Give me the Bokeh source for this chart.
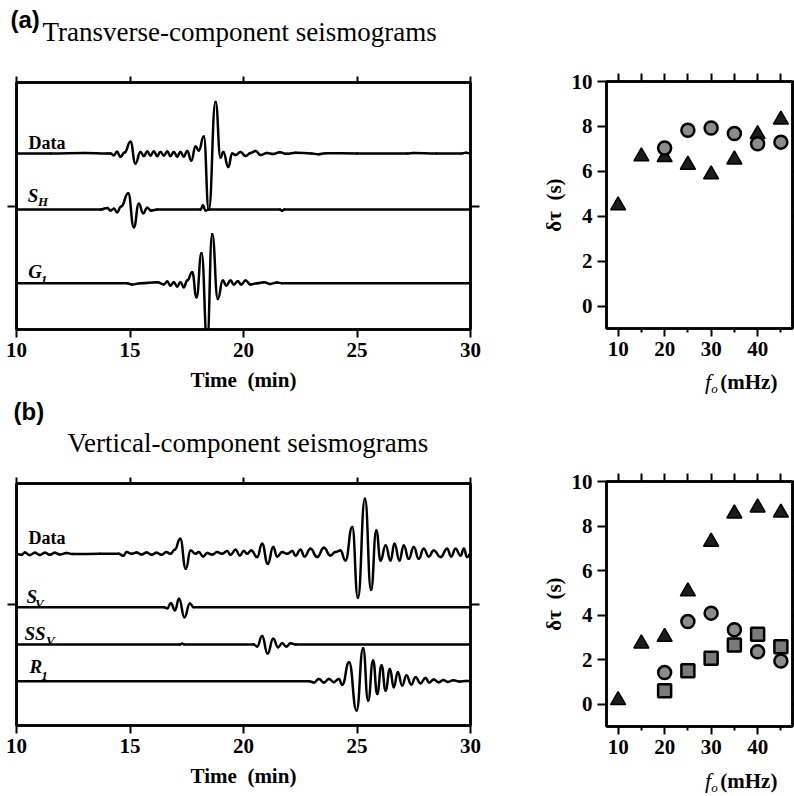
from bokeh.plotting import figure
from bokeh.models import Label, LinearAxis, FixedTicker
from bokeh.layouts import column, row
from bokeh.core.properties import value
from bokeh.embed import file_html
from bokeh.resources import INLINE

SERIF = "Liberation Serif"
SANS = "Liberation Sans"

# ---------------- data: seismogram traces (time in min, amplitude in arbitrary units) ----------------
t_data_T = [10.0, 11.5, 13.0, 14.0, 14.14, 14.29, 14.43, 14.58, 14.76, 15.02, 15.24, 15.46, 15.61, 15.76,
            15.90, 16.05, 16.20, 16.34, 16.49, 16.64, 16.78, 16.93, 17.08, 17.22, 17.37, 17.52, 17.70,
            17.89, 18.03, 18.25, 18.47, 18.77, 18.99, 19.11, 19.33, 19.50, 19.65, 19.87, 20.09, 20.31,
            20.53, 20.75, 21.04, 21.3, 21.6, 21.9, 22.3, 23.0, 23.3, 23.6, 25.0, 27.2, 27.5, 28.5, 29.6,
            29.8, 30.0]
a_data_T = [0, 0, 0.5, 0, 0, -1.7, 1.7, -3.3, 1, 11.7, -10, 1.5, -2.5, 2,
            -2, 2, -2.5, 1.5, -2, 2, -2.5, 1.5, -3, 1.5, -3, 2.5, -7,
            7, 3, 17, -56, 51.5, -4, 1.5, -13.5, 0, -1.5, 1.5, -2.5, 0.5,
            2.5, -1.5, 0.5, -0.5, 1.2, -0.3, 0.8, 0, -0.8, 0.3, 0, 0, 0.5, 0, 0,
            0.8, 0]

t_sh = [10.0, 13.7, 14.0, 14.14, 14.29, 14.43, 14.61, 14.92, 15.17, 15.39, 15.58, 15.76, 15.93, 16.2,
        18.11, 18.21, 18.33, 18.47, 21.6, 21.7, 21.8, 30.0]
a_sh = [0, 0, 1.5, -1, 0.7, -2.7, 3, 16.3, -17.7, 5.7, -3.7, 1.7, -1, 0,
        0, 4, -1, 0, 0, -1.3, 0, 0]

t_g1 = [10.0, 14.87, 15.09, 15.46, 16.2, 16.49, 16.64, 16.78, 16.93, 17.08, 17.22, 17.37, 17.52, 17.74,
        17.93, 18.15, 18.40, 18.62, 18.87, 19.09, 19.24, 19.43, 19.57, 19.75, 19.90, 20.09, 20.31,
        20.60, 20.90, 21.19, 21.48, 21.7, 30.0]
a_g1 = [0, 0, -1.3, 0, 1, -1.3, 1.7, -2.3, 1, -3.3, 1, -4, 2.7, 11,
        -14, 30, -57, 49, -15.7, 2.7, -2.3, 2.7, -1.3, 2, -1.3, 2.7, -1.3,
        0, 1, -0.7, 0.7, 0, 0]

t_data_V = [10.0, 10.22, 10.37, 10.59, 10.81, 11.03, 11.25, 11.47, 11.69, 11.91, 12.20, 12.50, 13.67,
            14.5, 14.70, 14.85, 15.07, 15.29, 15.51, 15.73, 15.95, 16.17, 16.39, 16.61, 16.78, 16.97,
            17.21, 17.46, 17.67, 17.89, 18.03, 18.22, 18.40, 18.62, 18.84, 19.06, 19.28, 19.43, 19.65,
            19.84, 20.01, 20.16, 20.34, 20.60, 20.82, 21.07, 21.31, 21.48, 21.70, 21.93, 22.15, 22.29,
            22.51, 22.69, 22.95, 23.25, 23.54, 23.83, 24.05, 24.27, 24.49, 24.79, 25.04, 25.35, 25.62,
            25.85, 26.04, 26.26, 26.48, 26.65, 26.87, 27.06, 27.28, 27.50, 27.72, 27.94, 28.16, 28.38,
            28.68, 28.97, 29.15, 29.34, 29.56, 29.71, 29.85, 30.0]
a_data_V = [0, -1, 1.3, -1.3, 1, -1.3, 1, -1, 1, -0.7, 0.7, -0.3, 0,
            0, -2, 1.7, 0, 1.3, -0.7, 1.3, -1, 1, -1, 1.7, 0, 4,
            15, -15, 3.3, 0, 1.7, -2.7, 0.7, -0.7, 1.7, 0, 2.7, -1, 4,
            -1.7, 2.7, 0, 3.3, -3.3, 10, -10, 6.7, -2.7, 1.7, 0, 2.7, -1.7,
            4, -2.7, 5, -3.3, 6, -1.7, 1.7, 3.3, -6.7, 26.7, -44, 55, -36,
            23.3, -6.7, 8.3, -6.7, 10, -6.7, 8.3, -5, 6.7, -5, 5, -2.7, 3.3,
            -3.3, 5, -2.7, 5, -1.7, 5, -3.3, 0]

t_sv = [10.0, 16.5, 16.64, 16.80, 16.98, 17.16, 17.40, 17.64, 17.8, 30.0]
a_sv = [0, 0, -1, 4, -3, 8.5, -10, 3.8, 0, 0]

t_ssv = [10.0, 17.2, 17.3, 17.4, 20.45, 20.60, 20.82, 21.06, 21.31, 21.52, 21.70, 21.89, 22.07, 22.3, 30.0]
a_ssv = [0, 0, 0.8, 0, 0, -2, 8.5, -9, 5.7, -2.7, 1.3, -2, 1.3, 0, 0]

t_r1 = [10.0, 22.9, 23.10, 23.32, 23.54, 23.76, 23.98, 24.20, 24.35, 24.65, 24.98, 25.27, 25.49, 25.71,
        25.89, 26.08, 26.26, 26.45, 26.62, 26.80, 26.99, 27.18, 27.39, 27.58, 27.80, 28.02, 28.18,
        28.38, 28.6, 28.8, 29.0, 29.25, 29.5, 29.8, 30.0]
a_r1 = [0, 0, -1.3, 2.3, -1.3, 2.3, -1, 2.3, -3.5, 19, -29.3, 33, -19.3, 20.7,
        -12.7, 15.7, -9.3, 12.3, -6, 9, -4.3, 5.7, -3.3, 4, -2, 3.3, -1.3,
        1.7, -1, 1.3, -0.7, 1, -0.3, 0.3, 0]

offsets_T = [176, 120, 46.3]           # Data, S_H, G_1
offsets_V = [171.7, 118.3, 81, 44.3]   # Data, S_V, SS_V, R_1

# ---------------- data: delay times ----------------
f0 = [10, 15, 20, 25, 30, 35, 40, 45]
f0_sub = [20, 25, 30, 35, 40, 45]
dtau_T_tri = [4.48, 6.66, 6.63, 6.29, 5.86, 6.52, 7.65, 8.3]
dtau_T_circ = [7.04, 7.83, 7.93, 7.68, 7.23, 7.3]
dtau_V_tri = [0.18, 2.72, 3.02, 5.06, 7.29, 8.56, 8.83, 8.6]
dtau_V_circ = [1.42, 3.71, 4.09, 3.34, 2.36, 1.94]
dtau_V_sq = [0.6, 1.5, 2.06, 2.66, 3.14, 2.58]

time_ticks = [10, 15, 20, 25, 30]
f_ticks = [10, 20, 30, 40]
f_minor = [15, 25, 35, 45]
dt_ticks = [0, 2, 4, 6, 8, 10]

LIFT = 0.37  # baseline correction (fraction of font size) observed for alphabetic text


def lab(p, x, y, text, size, style="normal", font=SERIF):
    p.add_layout(Label(x=x, y=y + LIFT * size, text=text, text_font=font, text_font_size=f"{size}px",
                       text_font_style=style, text_baseline="alphabetic", text_align="left",
                       text_color="black"))


def txt(p, x, y, text, size, style="normal", font=SERIF):
    p.text(x=[x], y=[y + LIFT * size], text=[text], text_font=value(font), text_font_size=f"{size}px",
           text_font_style=style, text_baseline="alphabetic", text_align="left", text_color="black")


def strip(width, height):
    p = figure(width=width, height=height, x_range=(0, width), y_range=(0, height), title=None,
               min_border=0, x_axis_type=None, y_axis_type=None, output_backend="svg",
               toolbar_location=None)
    p.xgrid.visible = False
    p.ygrid.visible = False
    p.outline_line_color = None
    p.border_fill_color = "white"
    p.background_fill_color = "white"
    return p


def style_axis(ax, ticks, minor=None, labels=True, tick_out=8, minor_out=0):
    ax.ticker = FixedTicker(ticks=ticks, minor_ticks=minor or [])
    ax.axis_line_width = 2.5
    ax.axis_line_color = "black"
    ax.major_tick_line_width = 2
    ax.major_tick_line_color = "black"
    ax.major_tick_in = 0
    ax.major_tick_out = tick_out
    ax.minor_tick_in = 0
    ax.minor_tick_out = minor_out
    ax.minor_tick_line_width = 2
    ax.minor_tick_line_color = "black" if minor else None
    ax.axis_label_text_color = "black"
    if labels:
        ax.major_label_text_font = SERIF
        ax.major_label_text_font_size = "21px"
        ax.major_label_text_font_style = "bold"
        ax.major_label_text_color = "black"
    else:
        ax.major_label_text_font_size = "0px"
        ax.major_label_text_color = None
        ax.major_label_standoff = 0


def base_fig(width, height, xr, yr, borders):
    l, r, t, b = borders
    p = figure(width=width, height=height, x_range=xr, y_range=yr, title=None,
               min_border_left=l, min_border_right=r, min_border_top=t, min_border_bottom=b,
               output_backend="svg", toolbar_location=None)
    p.xgrid.visible = False
    p.ygrid.visible = False
    p.outline_line_color = "black"
    p.outline_line_width = 2.5
    p.background_fill_color = "white"
    p.border_fill_color = "white"
    return p


def seis_fig(height, yr, borders, mid):
    p = base_fig(490, height, (10, 30), yr, borders)
    style_axis(p.xaxis[0], time_ticks, tick_out=8)
    p.xaxis[0].major_label_standoff = 5
    p.xaxis[0].axis_label = "Time\u00a0 (min)"
    p.xaxis[0].axis_label_text_font = SERIF
    p.xaxis[0].axis_label_text_font_size = "21px"
    p.xaxis[0].axis_label_text_font_style = "bold"
    p.xaxis[0].axis_label_standoff = 8
    style_axis(p.yaxis[0], [mid], labels=False, tick_out=9)
    top = LinearAxis()
    style_axis(top, time_ticks, labels=False, tick_out=6)
    p.add_layout(top, "above")
    right = LinearAxis()
    style_axis(right, [mid], labels=False, tick_out=9)
    p.add_layout(right, "right")
    return p


def tau_fig(height, borders):
    p = base_fig(304, height, (7.5, 47.5), (-1, 10), borders)
    style_axis(p.xaxis[0], f_ticks, minor=f_minor, tick_out=8, minor_out=4)
    p.xaxis[0].major_label_standoff = 5
    style_axis(p.yaxis[0], dt_ticks, tick_out=9)
    p.yaxis[0].major_label_standoff = 5
    p.yaxis[0].axis_label = "\u03b4\u03c4\u00a0 (s)"
    p.yaxis[0].axis_label_text_font = SERIF
    p.yaxis[0].axis_label_text_font_size = "21px"
    p.yaxis[0].axis_label_text_font_style = "bold"
    p.yaxis[0].axis_label_standoff = 3
    top = LinearAxis()
    style_axis(top, f_ticks + f_minor, labels=False, tick_out=8)
    p.add_layout(top, "above")
    right = LinearAxis()
    style_axis(right, dt_ticks, labels=False, tick_out=2)
    p.add_layout(right, "right")
    return p


def trace(p, t, a, off):
    y = [off + v for v in a]
    x0, x1 = t[:-1], t[1:]
    y0, y1 = y[:-1], y[1:]
    cx = [(u + w) / 2 for u, w in zip(x0, x1)]
    p.bezier(x0=x0, y0=y0, x1=x1, y1=y1, cx0=cx, cy0=y0, cx1=cx, cy1=y1,
             line_color="black", line_width=2.5, line_cap="round")


# ---------------- title strip (a) ----------------
sa = strip(794, 60)
txt(sa, 10, 32, "(a)", 24, "bold", SANS)
txt(sa, 42, 19, "Transverse-component seismograms", 27)

# ---------------- (a) transverse ----------------
pa = seis_fig(336, (0, 247), (16, 20, 22, 67), 123.5)
trace(pa, t_data_T, a_data_T, offsets_T[0])
trace(pa, t_sh, a_sh, offsets_T[1])
trace(pa, t_g1, a_g1, offsets_T[2])
lab(pa, 10.53, 180, "Data", 18, "bold")
lab(pa, 10.5, 127, "S", 19, "bold italic")
lab(pa, 10.95, 123, "H", 13, "bold italic")
lab(pa, 10.52, 51, "G", 19, "bold italic")
lab(pa, 11.07, 45, "1", 13, "bold italic")

pb = tau_fig(308, (116, 2, 21, 40))
pb.scatter(f0, dtau_T_tri, marker="triangle", size=15, fill_color="#1c1c1c", line_color="black", line_width=1.5)
pb.scatter(f0_sub, dtau_T_circ, marker="circle", size=13, fill_color="#8c8c8c", line_color="black", line_width=2.5)

sb = strip(304, 28)
txt(sb, 161, 7, "f", 22, "italic")
txt(sb, 171, 3, "o", 13, "italic")
txt(sb, 186, 7, "(mHz)", 21, "bold")

# ---------------- title strip (b) ----------------
sc = strip(794, 64)
txt(sc, 13, 40, "(b)", 24, "bold", SANS)
txt(sc, 67, 8, "Vertical-component seismograms", 27)

# ---------------- (b) vertical ----------------
pc = seis_fig(336, (0, 242), (16, 20, 23, 71), 121)
trace(pc, t_data_V, a_data_V, offsets_V[0])
trace(pc, t_sv, a_sv, offsets_V[1])
trace(pc, t_ssv, a_ssv, offsets_V[2])
trace(pc, t_r1, a_r1, offsets_V[3])
lab(pc, 10.53, 181, "Data", 18, "bold")
lab(pc, 10.44, 122, "S", 19, "bold italic")
lab(pc, 10.82, 117, "V", 13, "bold italic")
lab(pc, 10.35, 85, "SS", 19, "bold italic")
lab(pc, 11.3, 80, "V", 13, "bold italic")
lab(pc, 10.57, 52, "R", 19, "bold italic")
lab(pc, 11.09, 45, "1", 13, "bold italic")

pd = tau_fig(306, (116, 2, 21, 40))
pd.scatter(f0, dtau_V_tri, marker="triangle", size=15, fill_color="#1c1c1c", line_color="black", line_width=1.5)
pd.scatter(f0_sub, dtau_V_circ, marker="circle", size=13, fill_color="#8c8c8c", line_color="black", line_width=2.5)
pd.scatter(f0_sub, dtau_V_sq, marker="square", size=13, fill_color="#7a7a7a", line_color="black", line_width=2.5)

sd = strip(304, 30)
txt(sd, 161, 8, "f", 22, "italic")
txt(sd, 171, 4, "o", 13, "italic")
txt(sd, 186, 8, "(mHz)", 21, "bold")

layout = column(sa, row(pa, column(pb, sb)), sc, row(pc, column(pd, sd)))

open("out.html", "w").write(file_html(layout, INLINE))
